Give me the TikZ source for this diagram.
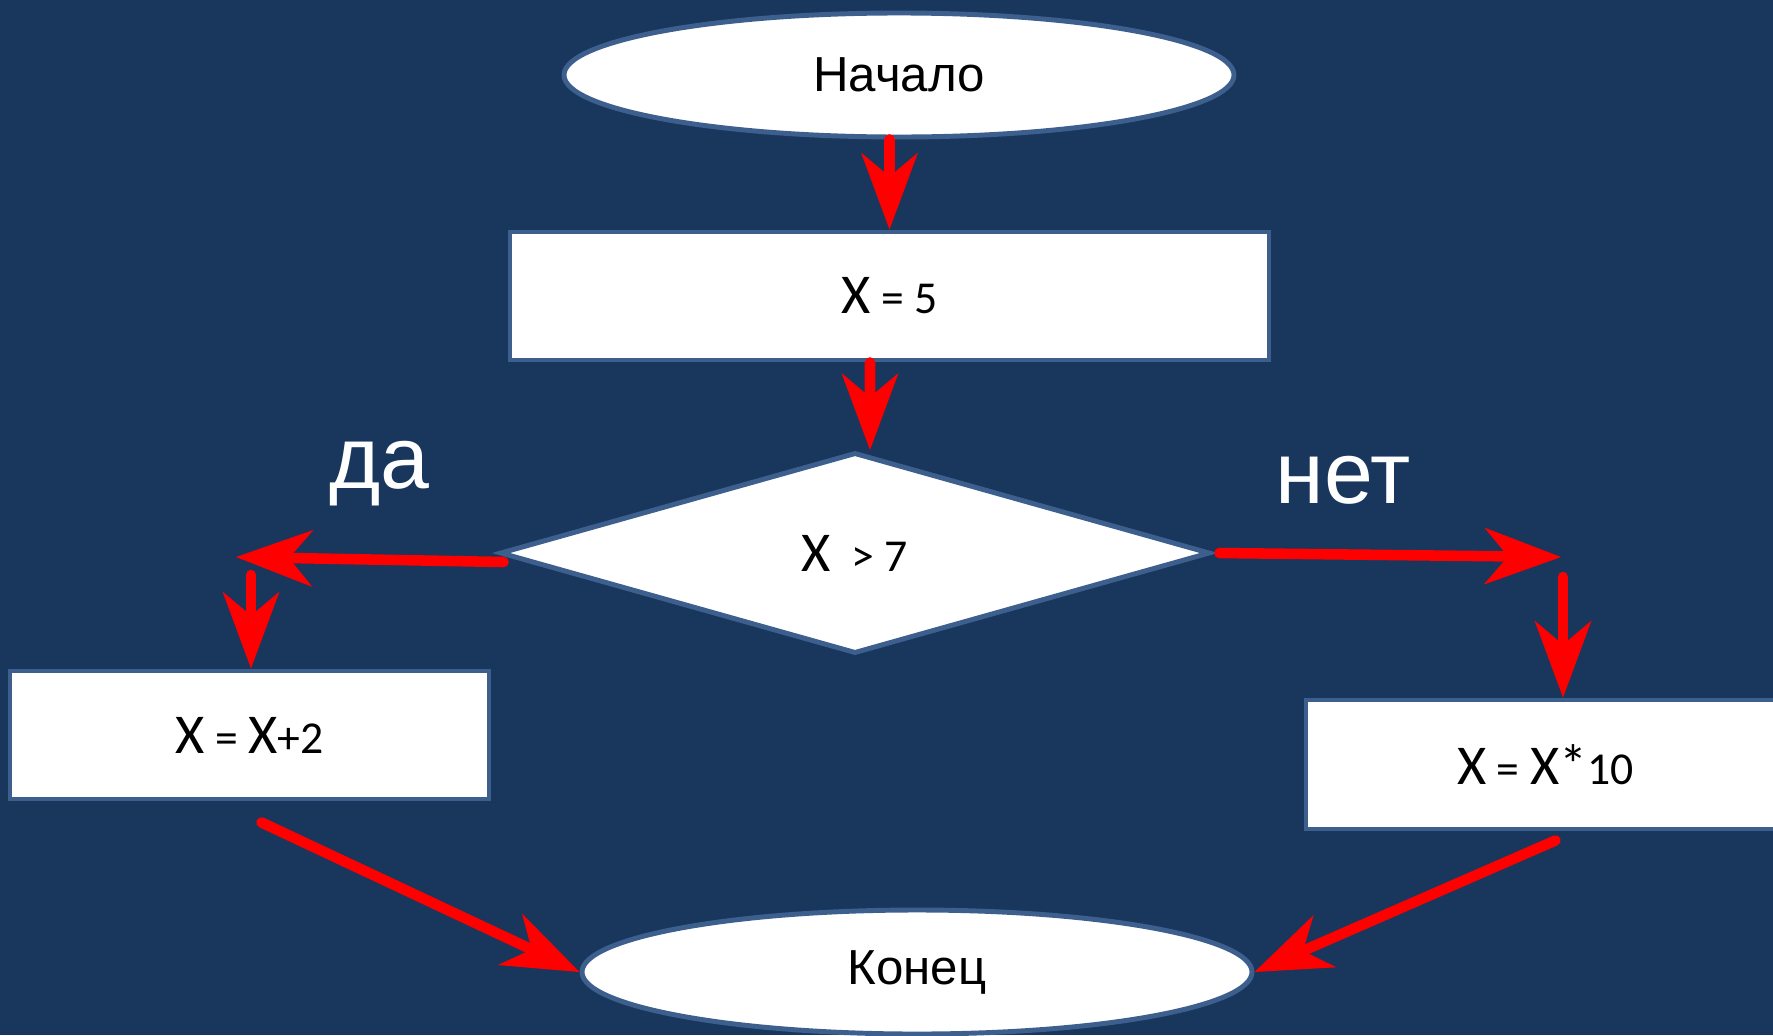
\documentclass[tikz,border=0pt]{standalone}
\usepackage{fontspec}
\setmainfont{Liberation Sans}
\newfontfamily\calibfont{Carlito}
\usetikzlibrary{shapes.geometric}
\usetikzlibrary{arrows.meta}

\definecolor{slide}{RGB}{25,54,93}
\definecolor{edge}{RGB}{60,95,142}

\newcommand{\bigX}{{\fontsize{16}{19}\selectfont X}}

\begin{document}
\begin{tikzpicture}[
	term/.style = {ellipse, draw=edge, line width=1.4pt, fill=white, minimum width=6.7cm, minimum height=1.24cm, font=\fontsize{14}{17}\selectfont},
	box/.style = {rectangle, draw=edge, line width=1.4pt, fill=white, minimum width=4.79cm, minimum height=1.28cm, font=\calibfont\fontsize{13}{16}\selectfont},
	answer/.style = {text=white, anchor=base, font=\fontsize{25}{30}\selectfont},
	flow/.style = {draw=red, line width=3pt, line cap=round, -{Stealth[length=7.7mm, width=5.7mm, inset=2.4mm, line width=0pt]}}
	]

	\useasboundingbox (0,0) rectangle (17.73,10.35);
	\fill [slide] (0,0) rectangle (17.73,10.35);
	\clip (0,0) rectangle (17.73,10.35);

	\node [term] (start) at (8.99,9.60) {Начало};
	\node [box, minimum width=7.59cm] (init) at (8.895,7.39) {\bigX{} = 5};
	\node [box, diamond, minimum width=7.1cm, minimum height=2.01cm] (cond) at (8.55,4.82) {\bigX\ \ > 7};
	\node [box] (yes) at (2.495,3.00) {\bigX{} = \bigX{}+2};
	\node [box, minimum height=1.29cm] (no) at (15.455,2.705) {\bigX{} = \bigX{}{\fontsize{16}{19}\selectfont *}10};
	\node [term] (stop) at (9.17,0.63) {Конец};

	\node [answer] (yeslabel) at (3.795,5.47) {да};
	\node [answer] (nolabel) at (13.43,5.32) {нет};

	% corners of the two branches
	\coordinate (yesturn) at (2.36,4.78);
	\coordinate (yesdrop) at (2.51,4.60);
	\coordinate (noturn) at (15.61,4.78);
	\coordinate (nodrop) at (15.63,4.58);

	\draw [flow] (start.south -| init.north) -- (init.north);
	\draw [flow] ([xshift=-1.95mm]init.south) -- ([xshift=1.5mm]cond.north);
	\draw [flow] ([xshift=0.6mm,yshift=-0.9mm]cond.west) -- (yesturn);
	\draw [flow] (yesdrop) -- (yesdrop |- yes.north);
	\draw [flow] ([xshift=0.7mm]cond.east) -- (noturn);
	\draw [flow] (nodrop) -- (nodrop |- no.north);
	\draw [flow] ([xshift=1.2mm,yshift=-2.1mm]yes.south) -- (stop.west);
	\draw [flow] ([xshift=1mm,yshift=-0.9mm]no.south) -- (stop.east);

\end{tikzpicture}
\end{document}
